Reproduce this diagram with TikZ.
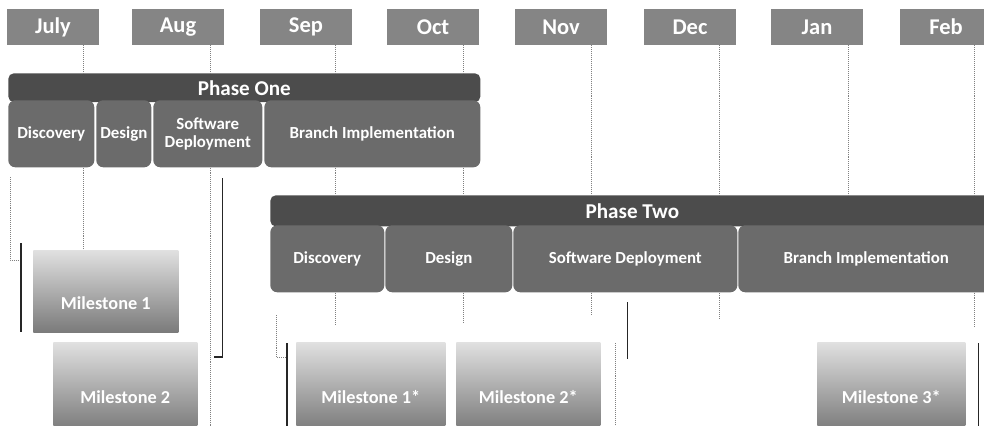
\documentclass[tikz,border=0pt]{standalone}
\usepackage{fontspec}
\setmainfont{Carlito}
\usepackage{tikz}

\begin{document}
\begin{tikzpicture}[x=0.025cm,y=-0.025cm,
    month/.style={fill=black!48,text=white,font=\fontsize{16}{18}\selectfont\bfseries,
      minimum width=2.28cm,minimum height=0.9cm,inner sep=0pt},
    phase/.style={fill=black!70,text=white,font=\fontsize{15}{17}\selectfont\bfseries,
      rounded corners=4pt,minimum height=0.72cm,inner sep=0pt,anchor=north west},
    task/.style={fill=black!58,text=white,font=\fontsize{12}{13}\selectfont\bfseries,
      rounded corners=5pt,minimum height=1.675cm,inner sep=0pt,align=center,anchor=north west},
    milestone/.style={top color=black!12,bottom color=black!52,text=white,
      font=\fontsize{13}{15}\selectfont\bfseries,inner sep=0pt,anchor=north west},
    tick/.style={densely dotted,black!50},
    bar/.style={black!85,line width=0.9pt}]
          \useasboundingbox (0,0) rectangle (984,426);
          \clip (0,0) rectangle (984,426);
          \coordinate (bottom) at (0,432);

          % months
          \node[month] (jul) at (53,27) {July};
          \node[month] (aug) at (178,27) {Aug};
          \node[month] (sep) at (306,27) {Sep};
          \node[month] (oct) at (433,27) {Oct};
          \node[month] (nov) at (561,27) {Nov};
          \node[month] (dec) at (690,27) {Dec};
          \node[month] (jan) at (817,27) {Jan};
          \node[month] (feb) at (946,27) {Feb};

          % phase one
          \node[phase,minimum width=11.8cm] (p1) at (8,73) {Phase One};
          \node[task,minimum width=2.15cm] (p1dis) at (8,100) {Discovery};
          \node[task,minimum width=1.375cm] (p1des) at (96,100) {Design};
          \node[task,minimum width=2.725cm] (p1sw) at (153,100) {Software\\Deployment};
          \node[task,minimum width=5.4cm] (p1br) at (264,100) {Branch Implementation};

          % phase two
          \node[phase,minimum width=18.1cm,minimum height=0.78cm] (p2) at (270,195) {Phase Two};
          \node[task,minimum width=2.85cm] (p2dis) at (270,225) {Discovery};
          \node[task,minimum width=3.175cm] (p2des) at (385,225) {Design};
          \node[task,minimum width=5.6cm] (p2sw) at (513,225) {Software Deployment};
          \node[task,minimum width=6.4cm] (p2br) at (738,225) {Branch Implementation};

          % milestones
          \node[milestone,minimum width=3.625cm,text height=1.475cm,text depth=0.575cm] (m1) at (33,250) {Milestone 1};
          \node[milestone,minimum width=3.6cm,text height=1.525cm,text depth=0.675cm] (m2) at (53,342) {Milestone 2};
          \node[milestone,minimum width=3.725cm,text height=1.525cm,text depth=0.675cm] (m1s) at (296,342) {Milestone 1*};
          \node[milestone,minimum width=3.6cm,text height=1.525cm,text depth=0.675cm] (m2s) at (456,342) {Milestone 2*};
          \node[milestone,minimum width=3.7cm,text height=1.525cm,text depth=0.675cm] (m3s) at (817,342) {Milestone 3*};

          % month ticks
          \coordinate (tjul) at ([xshift=-0.4cm]jul.south east);
          \coordinate (taug) at ([xshift=-0.35cm]aug.south east);
          \coordinate (tsep) at ([xshift=-0.42cm]sep.south east);
          \coordinate (toct) at ([xshift=-0.38cm]oct.south east);
          \coordinate (tnov) at ([xshift=-0.38cm]nov.south east);
          \coordinate (tdec) at ([xshift=-0.42cm]dec.south east);
          \coordinate (tjan) at ([xshift=-0.36cm]jan.south east);
          \coordinate (tfeb) at ([xshift=-0.45cm]feb.south east);

          \draw[tick] (tjul) -- (tjul |- p1.north);
          \draw[tick] (taug) -- (taug |- p1.north);
          \draw[tick] (tsep) -- (tsep |- p1.north);
          \draw[tick] (toct) -- (toct |- p1.north);
          \draw[tick] (tnov) -- (tnov |- p2.north);
          \draw[tick] (tdec) -- (tdec |- p2.north);
          \draw[tick] (tjan) -- (tjan |- p2.north);
          \draw[tick] (tfeb) -- (tfeb |- p2.north);

          \draw[tick] (tjul |- p1dis.south) -- (tjul |- m1.north);
          \draw[tick] (taug |- p1sw.south) -- (taug |- bottom);
          \draw[tick] (tsep |- p1br.south) -- (tsep |- p2.north);
          \draw[tick] (toct |- p1br.south) -- (toct |- p2.north);
          \draw[tick] (tsep |- p2dis.south) -- ++(0,33);
          \draw[tick] (toct |- p2des.south) -- ++(0,30);
          \draw[tick] (tnov |- p2sw.south) -- ++(0,23);
          \draw[tick] (tdec |- p2sw.south) -- ++(0,26);
          \draw[tick] (tfeb |- p2br.south) -- ++(0,35);

          % milestone bars
          \draw[tick] (m1.north west) ++(-23,-73) |- ++(8,83);
          \draw[bar] (m1.north west) ++(-12,-7) -- ++(0,89);
          \draw[bar] (m2.north east) ++(25,-164) -- ++(0,179) -- ++(-9,0);
          \draw[tick] (m1s.north west) ++(-20,-27) |- ++(10,42);
          \draw[bar] (m1s.north west) ++(-9,1) -- ++(0,90);
          \draw[bar] (m2s.north east) ++(27,-40) -- ++(0,57);
          \draw[tick] (m2s.north east) ++(15,1) -- ++(0,90);
          \draw[bar] (m3s.north east) ++(13,1) -- ++(0,90);
        \end{tikzpicture}
\end{document}
